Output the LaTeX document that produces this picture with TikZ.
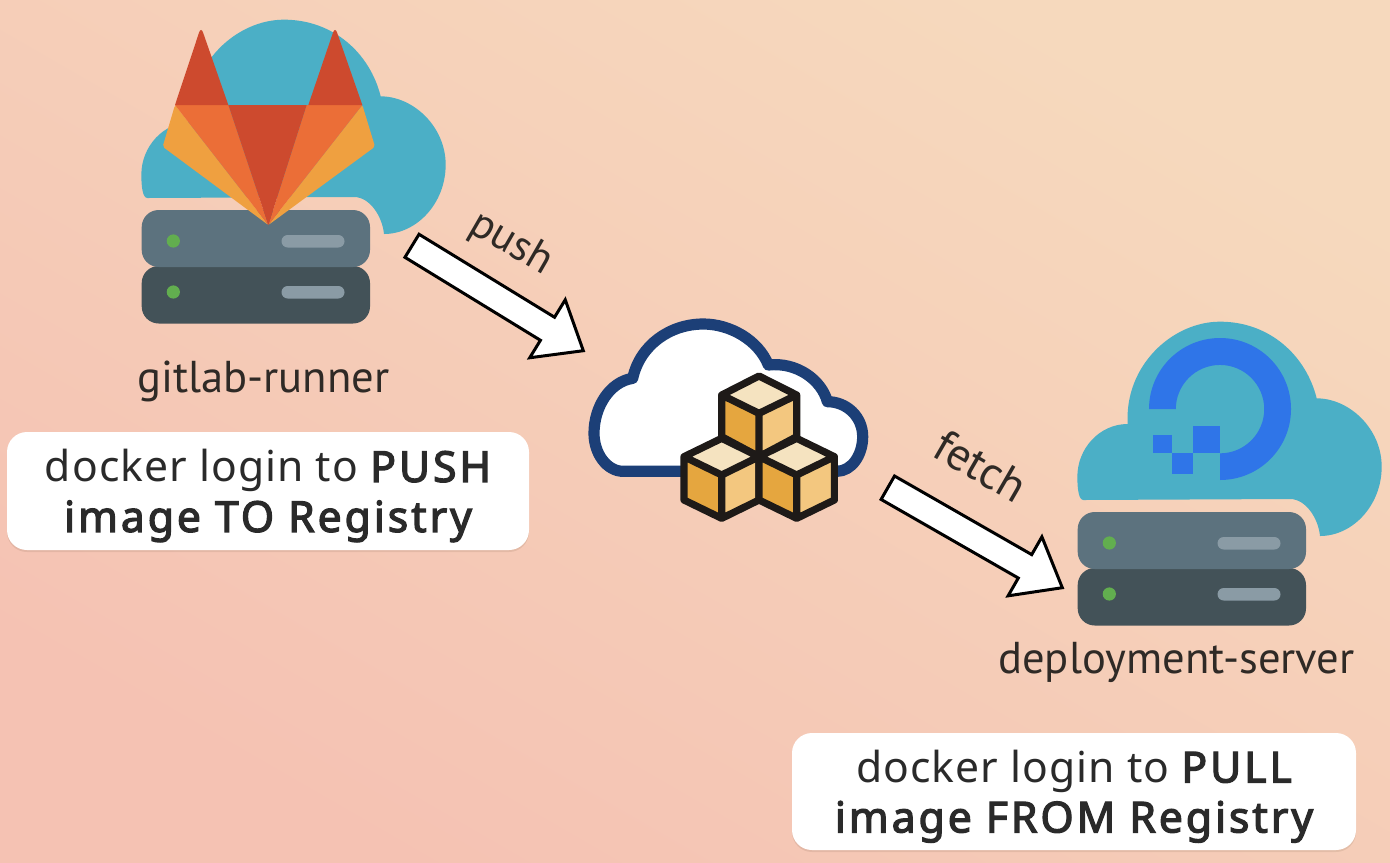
\documentclass[tikz,border=0pt]{standalone}
\usepackage{fontspec}
\usetikzlibrary{calc,shadows}
\setmainfont{Noto Sans}
\newfontfamily\boxfont[LetterSpace=2.5]{Noto Sans}
\newfontfamily\boxbold[LetterSpace=7,FakeBold=3]{Noto Sans}
\newfontfamily\labelfont{PT Sans}
\definecolor{bgwarm}{HTML}{F6D9BD}
\definecolor{bgpink}{HTML}{F5C2B3}
\definecolor{cloudblue}{HTML}{4BAFC6}
\definecolor{srvtop}{HTML}{5C727E}
\definecolor{srvbot}{HTML}{435258}
\definecolor{srvbar}{HTML}{8A9BA5}
\definecolor{srvdot}{HTML}{62AE4F}
\definecolor{foxred}{HTML}{CD4A2E}
\definecolor{foxorange}{HTML}{EB6E37}
\definecolor{foxyellow}{HTML}{EFA040}
\definecolor{doblue}{HTML}{2F75E8}
\definecolor{regblue}{HTML}{1C3F77}
\definecolor{cubetop}{HTML}{F5E3C0}
\definecolor{cubeleft}{HTML}{E5A63F}
\definecolor{cuberight}{HTML}{F3C77F}
\definecolor{cubeline}{HTML}{1E1A18}
\definecolor{inktext}{HTML}{2A2A2A}
\definecolor{labeltext}{HTML}{2F2A26}
\tikzset{
  infobox/.style={fill=white,rounded corners=10pt,inner sep=0pt,align=center,
    font=\boxfont\fontsize{21.3}{25}\selectfont,text=inktext,
    general shadow={shadow xshift=0pt,shadow yshift=-1pt,fill=black!60!brown,opacity=.1}},
  srvlabel/.style={font=\labelfont\fontsize{22.3}{26}\selectfont,text=labeltext,inner sep=0pt},
  arrowlabel/.style={text=labeltext,inner sep=0pt,rotate=-30},
  blockarrow/.style={draw=black,line width=1.5pt,fill=white,line join=miter},
  cubeedge/.style={draw=cubeline,line width=3.6pt,line join=round},
}
% z-scale: 3 units per reference pixel
\newcommand{\servercloud}[2]{%
  \begin{scope}[shift={(#1,#2)}]
    \begin{scope}[shift={(120,10)},x=0.16667pt,y=-0.16667pt]
      \fill[cloudblue] (82,564) .. controls (68,564) and (64,530) .. (64,494)
        .. controls (64,410) and (130,336) .. (215,336)
        .. controls (205,160) and (350,29) .. (492,29)
        .. controls (640,29) and (750,130) .. (782,259)
        .. controls (880,259) and (977,350) .. (977,464)
        .. controls (977,580) and (890,672) .. (792,672)
        .. controls (787,620) and (750,561) .. (702,561) -- cycle;
    \end{scope}
    \fill[srvbot,rounded corners=8.5pt] (141.7,266) rectangle (370,323.5);
    \fill[srvtop,rounded corners=8.5pt] (141.7,210) rectangle (370,267);
    \fill[srvdot] (173.3,241) circle[radius=3.3pt];
    \fill[srvdot] (173.3,292) circle[radius=3.3pt];
    \fill[srvbar,rounded corners=3.1pt] (281.5,235) rectangle (344.5,247.5);
    \fill[srvbar,rounded corners=3.1pt] (281.5,286) rectangle (344.5,298.5);
  \end{scope}}
% block arrow between two named coordinates: half shaft, half head, head length
\newcommand{\blockconn}[5]{%
  \coordinate (hb) at ($(#2)!#5!(#1)$);
  \path[blockarrow]
    ($(#1)!#3!90:(#2)$) -- ($(hb)!#3!-90:(#1)$) -- ($(hb)!#4!-90:(#1)$) -- (#2)
    -- ($(hb)!#4!90:(#1)$) -- ($(hb)!#3!90:(#1)$) -- ($(#1)!#3!-90:(#2)$) -- cycle;}
\begin{document}
\begin{tikzpicture}[x=0.5pt,y=-0.5pt]
  \useasboundingbox (0,0) rectangle (1390,862);
  \shade[shading=axis,top color=bgwarm,bottom color=bgpink,shading angle=-30]
    (0,0) rectangle (1390,862);

  % gitlab-runner
  \servercloud{0}{0}
  \begin{scope}[shift={(120,10)},x=0.16667pt,y=-0.16667pt]
    \fill[foxyellow,rounded corners=1pt] (165,285) -- (128,410) -- (445,645) -- cycle;
    \fill[foxyellow,rounded corners=1pt] (727,285) -- (765,410) -- (445,645) -- cycle;
    \fill[foxorange] (165,285) -- (325,285) -- (445,645) -- cycle;
    \fill[foxorange] (560,285) -- (727,285) -- (445,645) -- cycle;
    \fill[foxred] (325,285) -- (560,285) -- (445,645) -- cycle;
    \fill[foxred] (165,285) [rounded corners=3pt] -- (243,50) [sharp corners] -- (325,285) -- cycle;
    \fill[foxred] (565,285) [rounded corners=3pt] -- (645,50) [sharp corners] -- (727,285) -- cycle;
  \end{scope}
  \node[srvlabel] (runner) at (263.5,381) {gitlab-runner};
  \node[infobox,minimum width=261pt,minimum height=59pt] (pushbox) at (268,491)
    {\rule{0pt}{21pt}docker login to {\boxbold PUSH}\\{\boxbold image TO Registry}};

  % registry
  \begin{scope}[shift={(570,300)},x=0.16667pt,y=-0.16667pt]
    \path[draw=regblue,fill=white,line width=5.6pt,line join=round]
      (160,514) .. controls (110,514) and (72,460) .. (72,400)
      .. controls (72,320) and (120,245) .. (188,235)
      .. controls (210,135) and (300,72) .. (400,72)
      .. controls (480,72) and (565,120) .. (595,195)
      .. controls (680,185) and (755,240) .. (772,305)
      .. controls (830,305) and (878,350) .. (878,410)
      .. controls (878,465) and (845,514) .. (800,514) -- cycle;
    % top cube
    \fill[cubetop] (567,228) -- (680,285) -- (567,340) -- (455,285) -- cycle;
    \fill[cubeleft] (455,285) -- (567,340) -- (567,465) -- (455,410) -- cycle;
    \fill[cuberight] (680,285) -- (567,340) -- (567,465) -- (680,410) -- cycle;
    \path[cubeedge] (567,228) -- (680,285) -- (680,410) -- (567,470) -- (455,410) -- (455,285) -- cycle
      (455,285) -- (567,340) -- (680,285) (567,340) -- (567,470);
    % left cube
    \fill[cubetop] (455,415) -- (567,470) -- (455,525) -- (342,470) -- cycle;
    \fill[cubeleft] (342,470) -- (455,525) -- (455,655) -- (342,600) -- cycle;
    \fill[cuberight] (567,470) -- (455,525) -- (455,655) -- (567,600) -- cycle;
    \path[cubeedge] (455,415) -- (567,470) -- (567,600) -- (455,655) -- (342,600) -- (342,470) -- cycle
      (342,470) -- (455,525) -- (567,470) (455,525) -- (455,655);
    % right cube
    \fill[cubetop] (680,415) -- (793,470) -- (680,525) -- (567,470) -- cycle;
    \fill[cubeleft] (567,470) -- (680,525) -- (680,655) -- (567,600) -- cycle;
    \fill[cuberight] (793,470) -- (680,525) -- (680,655) -- (793,600) -- cycle;
    \path[cubeedge] (680,415) -- (793,470) -- (793,600) -- (680,655) -- (567,600) -- (567,470) -- cycle
      (567,470) -- (680,525) -- (793,470) (680,525) -- (680,655);
  \end{scope}

  % deployment-server
  \servercloud{936}{302}
  \begin{scope}[shift={(1060,310)},x=0.16667pt,y=-0.16667pt]
    \fill[doblue] (267,297) arc[start angle=180,delta angle=-270,radius=35.5pt]
      -- (480,430) arc[start angle=270,delta angle=270,radius=22.1pt] -- cycle;
    \fill[doblue] (400,347) rectangle (480,430);
    \fill[doblue] (280,375) rectangle (335,430);
    \fill[doblue] (335,430) rectangle (398,492);
  \end{scope}
  \node[srvlabel] (server) at (1176.5,662) {deployment-server};
  \node[infobox,minimum width=282pt,minimum height=58.5pt] (pullbox) at (1074,791.5)
    {\rule{0pt}{21pt}docker login to {\boxbold PULL}\\{\boxbold image FROM Registry}};

  % connectors
  \coordinate (pushA) at (412,245.8);
  \coordinate (pushB) at (583.3,350.7);
  \blockconn{pushA}{pushB}{6.75pt}{17pt}{21pt}
  \node[arrowlabel,font=\labelfont\fontsize{21.5}{26}\selectfont] (pushlab) at (511,244) {push};
  \coordinate (fetchA) at (887.8,487.7);
  \coordinate (fetchB) at (1062.3,587.7);
  \blockconn{fetchA}{fetchB}{6.75pt}{17pt}{21.5pt}
  \node[arrowlabel,font=\labelfont\fontsize{23}{26}\selectfont] (fetchlab) at (981,466) {fetch};
\end{tikzpicture}
\end{document}
